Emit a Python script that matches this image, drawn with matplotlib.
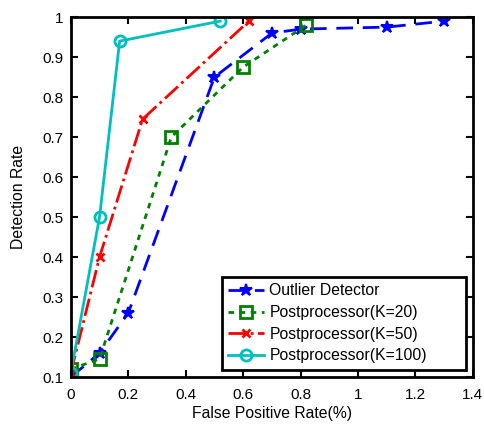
import matplotlib.pyplot as plt

plt.rcParams['font.family'] = ['Liberation Sans', 'DejaVu Sans']

# false positive rate (%) / detection rate for each method
fpr_outlier = [0, 0.1, 0.2, 0.5, 0.7, 0.8, 1.1, 1.3]
det_outlier = [0.10, 0.16, 0.26, 0.85, 0.96, 0.97, 0.975, 0.99]

fpr_k20 = [0, 0.1, 0.35, 0.6, 0.82]
det_k20 = [0.12, 0.145, 0.70, 0.875, 0.98]

fpr_k50 = [0, 0.1, 0.25, 0.62]
det_k50 = [0.11, 0.40, 0.745, 0.99]

fpr_k100 = [0, 0.1, 0.17, 0.52]
det_k100 = [0.11, 0.50, 0.94, 0.99]

fig = plt.figure(figsize=(4.85, 4.28), dpi=100)
ax = fig.add_axes([0.146, 0.119, 0.829, 0.841])

ax.plot(fpr_outlier, det_outlier, '--', color='#0000ff', lw=2, marker='*',
        ms=9, mew=1.5, label='Outlier Detector', dashes=(6, 3.5))
ax.plot(fpr_k20, det_k20, ':', color='#008000', lw=2, marker='s', ms=9,
        mfc='none', mew=2, label='Postprocessor(K=20)', dashes=(2, 2))
ax.plot(fpr_k50, det_k50, '-.', color='#ff0000', lw=2, marker='x', ms=6,
        mew=2, label='Postprocessor(K=50)')
ax.plot(fpr_k100, det_k100, '-', color='#00bfbf', lw=2, marker='o', ms=8,
        mfc='none', mew=2, label='Postprocessor(K=100)')

ax.set_xlim(0, 1.4)
ax.set_ylim(0.1, 1)
ax.set_xticks([0, 0.2, 0.4, 0.6, 0.8, 1, 1.2, 1.4])
ax.set_xticklabels(['0', '0.2', '0.4', '0.6', '0.8', '1', '1.2', '1.4'])
ax.set_yticks([0.1, 0.2, 0.3, 0.4, 0.5, 0.6, 0.7, 0.8, 0.9, 1])
ax.set_yticklabels(['0.1', '0.2', '0.3', '0.4', '0.5', '0.6', '0.7', '0.8', '0.9', '1'])
ax.tick_params(direction='in', top=True, right=True, length=5, width=1.5,
               labelsize=11)
ax.tick_params(axis='x', pad=8)
ax.tick_params(axis='y', pad=5)
for s in ax.spines.values():
    s.set_linewidth(2)

ax.set_xlabel('False Positive Rate(%)', fontsize=11.3, labelpad=3)
ax.set_ylabel('Detection Rate', fontsize=11.3, labelpad=12)

# wide box, entries kept on the left
leg = ax.legend(loc='lower left', bbox_to_anchor=(0.376, 0.021, 0.606, 0.26),
                mode='expand', fontsize=11.3, numpoints=1, handlelength=2.3,
                handletextpad=0.32, borderpad=0.4, labelspacing=0.42,
                fancybox=False, framealpha=1, borderaxespad=0)
leg.get_frame().set_edgecolor('black')
leg.get_frame().set_linewidth(2)

fig.savefig('out.png', dpi=100)
